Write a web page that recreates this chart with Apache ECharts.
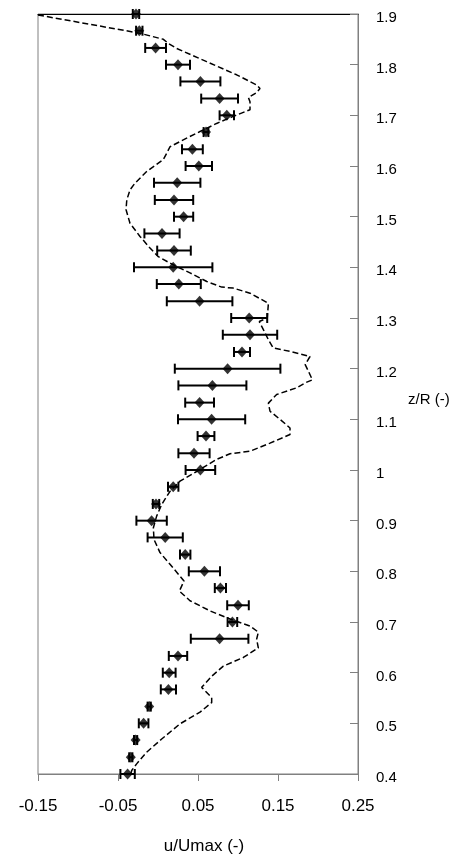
<!DOCTYPE html>
<html>
<head>
<meta charset="utf-8">
<script src="https://cdn.jsdelivr.net/npm/echarts@6/dist/echarts.min.js"></script>
<style>html,body{margin:0;padding:0;background:#fff}#c{width:462px;height:860px}</style>
</head>
<body>
<div id="c"></div>
<script>
const zVals = [1.9, 1.867, 1.833, 1.8, 1.767, 1.733, 1.7, 1.667, 1.633, 1.6, 1.567, 1.533, 1.5, 1.467, 1.433, 1.4, 1.367, 1.333, 1.3, 1.267, 1.233, 1.2, 1.167, 1.133, 1.1, 1.067, 1.033, 1.0, 0.967, 0.933, 0.9, 0.867, 0.833, 0.8, 0.767, 0.733, 0.7, 0.667, 0.633, 0.6, 0.567, 0.533, 0.5, 0.467, 0.433, 0.4];
const uMean = [-0.0275, -0.0234, -0.003, 0.025, 0.053, 0.077, 0.086, 0.060, 0.043, 0.051, 0.024, 0.020, 0.032, 0.005, 0.020, 0.019, 0.026, 0.052, 0.114, 0.115, 0.105, 0.087, 0.068, 0.052, 0.067, 0.060, 0.045, 0.053, 0.019, -0.0025, -0.008, 0.009, 0.034, 0.058, 0.078, 0.100, 0.093, 0.077, 0.025, 0.014, 0.013, -0.011, -0.018, -0.028, -0.034, -0.038];
const uErr = [0.004, 0.004, 0.013, 0.015, 0.025, 0.023, 0.009, 0.003, 0.013, 0.0165, 0.029, 0.024, 0.012, 0.022, 0.021, 0.049, 0.0275, 0.041, 0.0225, 0.034, 0.010, 0.066, 0.0425, 0.018, 0.042, 0.0105, 0.0195, 0.0185, 0.0065, 0.004, 0.019, 0.022, 0.0065, 0.0195, 0.007, 0.0135, 0.006, 0.036, 0.0115, 0.008, 0.0095, 0.002, 0.006, 0.002, 0.002, 0.009];

const lineU = [-0.15, -0.0225, 0.0067, 0.0129, 0.0233, 0.0608, 0.0983, 0.1233, 0.1275, 0.1233, 0.113, 0.115, 0.115, 0.094, 0.0733, 0.0525, 0.0358, 0.015, 0.0108, 0.0067, -0.0142, -0.0288, -0.035, -0.039, -0.04, -0.035, -0.0225, -0.01, 0.0004, 0.019, 0.04, 0.061, 0.0796, 0.094, 0.115, 0.138, 0.1366, 0.1266, 0.1317, 0.138, 0.144, 0.165, 0.19, 0.184, 0.188, 0.193, 0.184, 0.173, 0.1483, 0.138, 0.14, 0.1525, 0.165, 0.165, 0.14, 0.115, 0.09, 0.0733, 0.0483, 0.0275, 0.015, 0.0046, -0.0017, -0.0058, -0.005, 0.0025, 0.015, 0.0325, 0.0267, 0.04, 0.065, 0.09, 0.115, 0.1254, 0.1233, 0.1254, 0.1067, 0.0817, 0.0671, 0.0546, 0.0671, 0.0671, 0.0525, 0.0275, 0.0046, -0.0142, -0.0267, -0.0329, -0.034];
const lineZ = [1.898, 1.862, 1.85, 1.842, 1.832, 1.806, 1.78, 1.76, 1.753, 1.745, 1.735, 1.727, 1.711, 1.698, 1.684, 1.668, 1.655, 1.638, 1.625, 1.613, 1.589, 1.566, 1.553, 1.533, 1.514, 1.487, 1.461, 1.438, 1.421, 1.405, 1.389, 1.372, 1.361, 1.359, 1.349, 1.329, 1.30, 1.293, 1.277, 1.257, 1.241, 1.234, 1.224, 1.208, 1.195, 1.178, 1.172, 1.162, 1.149, 1.132, 1.116, 1.1, 1.083, 1.07, 1.053, 1.037, 1.032, 1.021, 0.997, 0.978, 0.958, 0.932, 0.909, 0.886, 0.863, 0.837, 0.814, 0.781, 0.761, 0.742, 0.722, 0.706, 0.692, 0.68, 0.666, 0.649, 0.63, 0.613, 0.593, 0.571, 0.551, 0.541, 0.522, 0.499, 0.469, 0.443, 0.42, 0.407, 0.4];

const xTickMin = -0.15, xTickMax = 0.25, xStep = 0.1;
const yTickMin = 0.4, yTickMax = 1.9, yStep = 0.1;

const chart = echarts.init(document.getElementById('c'), null, {renderer: 'canvas'});
const font = '"Liberation Sans", Arial, sans-serif';

const lineData = lineU.map((u, i) => [u, lineZ[i]]);
const ptData = uMean.map((u, i) => [u, zVals[i]]);
const errData = uMean.map((u, i) => [u - uErr[i], u + uErr[i], zVals[i]]);

chart.setOption({
  animation: false,
  backgroundColor: '#fff',
  textStyle: {fontFamily: font},
  grid: {left: 38, right: 104, top: 14, bottom: 85, show: true, borderColor: '#808080', borderWidth: 1, backgroundColor: 'transparent'},
  xAxis: [{
    type: 'value', min: xTickMin, max: xTickMax, interval: xStep,
    position: 'bottom',
    axisLine: {show: true, onZero: false, lineStyle: {color: '#808080', width: 1}},
    axisTick: {show: true, length: 7, lineStyle: {color: '#808080'}},
    splitLine: {show: false},
    axisLabel: {color: '#000', fontSize: 17, margin: 24, fontFamily: font,
      formatter: v => (Math.round(v * 100) / 100).toFixed(2)},
    name: 'u/Umax (-)', nameLocation: 'middle', nameGap: 64,
    nameTextStyle: {color: '#000', fontSize: 17, fontFamily: font, padding: [0, 0, 0, 12]}
  }, {
    type: 'value', min: xTickMin, max: xTickMax, position: 'top',
    axisLine: {show: true, onZero: false, lineStyle: {color: '#000', width: 1}},
    axisTick: {show: false}, axisLabel: {show: false}, splitLine: {show: false}
  }],
  yAxis: {
    type: 'value', min: yTickMin, max: yTickMax, interval: yStep,
    position: 'right',
    axisLine: {show: true, onZero: false, lineStyle: {color: '#808080', width: 1}},
    axisTick: {show: true, inside: true, length: 8, lineStyle: {color: '#808080'}},
    splitLine: {show: false},
    axisLabel: {color: '#000', fontSize: 15, margin: 18, fontFamily: font, verticalAlign: 'middle', padding: [0, 0, 0, 0],
      formatter: v => '{a|' + String(Math.round(v * 10) / 10) + '}',
      rich: {a: {fontSize: 15, color: '#000', fontFamily: font, padding: [8, 0, 0, 0]}}},
    name: '{a|z/R (-)}', nameLocation: 'middle', nameGap: 50, nameRotate: 0,
    nameTextStyle: {color: '#000', fontSize: 15, fontFamily: font, align: 'left', verticalAlign: 'middle',
      rich: {a: {fontSize: 15, color: '#000', fontFamily: font, padding: [12, 0, 0, 0]}}}
  },
  series: [{
    type: 'line', data: lineData, symbol: 'none', smooth: false, z: 2,
    lineStyle: {color: '#000', width: 1.5, type: [6, 3]}
  }, {
    type: 'custom', z: 3,
    data: errData,
    encode: {x: [0, 1], y: 2},
    renderItem: function (params, api) {
      const p1 = api.coord([api.value(0), api.value(2)]);
      const p2 = api.coord([api.value(1), api.value(2)]);
      const h = 5;
      const st = {stroke: '#000', lineWidth: 2};
      return {type: 'group', children: [
        {type: 'line', shape: {x1: p1[0], y1: p1[1], x2: p2[0], y2: p2[1]}, style: st},
        {type: 'line', shape: {x1: p1[0], y1: p1[1] - h, x2: p1[0], y2: p1[1] + h}, style: st},
        {type: 'line', shape: {x1: p2[0], y1: p2[1] - h, x2: p2[0], y2: p2[1] + h}, style: st}
      ]};
    }
  }, {
    type: 'scatter', data: ptData, symbol: 'diamond', symbolSize: [10, 11], z: 4,
    itemStyle: {color: '#000'}
  }]
});
</script>
</body>
</html>
